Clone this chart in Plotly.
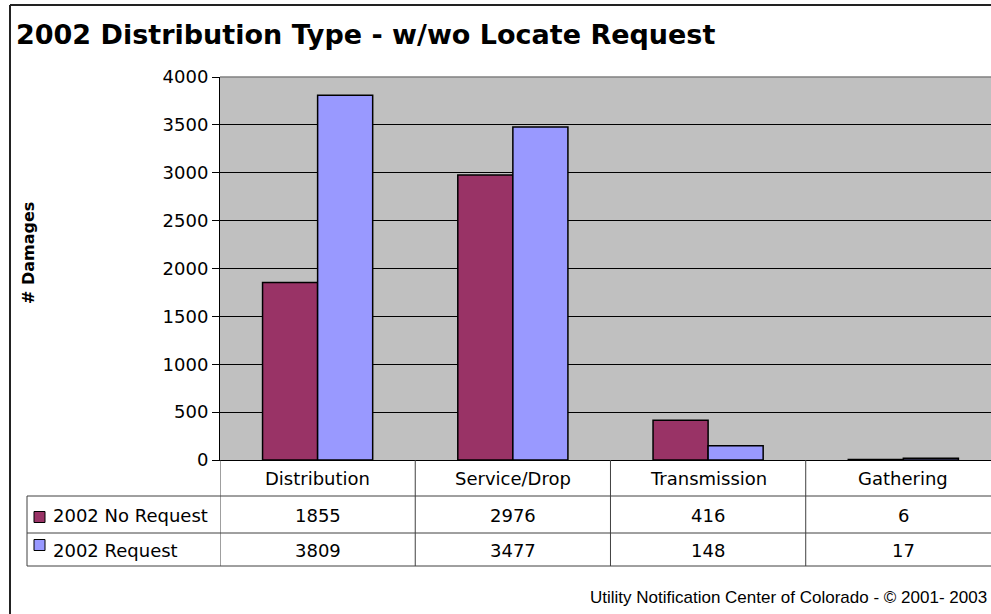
import plotly.graph_objects as go

categories = ["Distribution", "Service/Drop", "Transmission", "Gathering"]
series_names = ["2002 No Request", "2002 Request"]
no_request = [1855, 2976, 416, 6]
request = [3809, 3477, 148, 17]
series_colors = ["#993366", "#9999FF"]
y_ticks = [0, 500, 1000, 1500, 2000, 2500, 3000, 3500, 4000]

W, H = 991, 614
FONT = "DejaVu Sans, Arial, sans-serif"
NARROW = "Liberation Sans Narrow, Arial Narrow, Liberation Sans, Arial, sans-serif"


def px(x):
    return x / W


def py(y):
    return 1 - y / H


fig = go.Figure()
for name, vals, color in zip(series_names, [no_request, request], series_colors):
    fig.add_trace(go.Bar(
        x=categories, y=vals, name=name,
        marker=dict(color=color, line=dict(color="black", width=1.5)),
    ))

# plot area (gray) and axes
fig.update_layout(
    width=W, height=H,
    margin=dict(l=0, r=0, t=0, b=0, autoexpand=False),
    paper_bgcolor="white",
    plot_bgcolor="#C0C0C0",
    showlegend=False,
    barmode="group",
    bargap=0.436,
    bargroupgap=0,
    font=dict(family=FONT, color="black"),
    xaxis=dict(
        domain=[px(220), 1],
        range=[-0.5, 3.449],
        automargin=False,
        showticklabels=False,
        showgrid=False,
        showline=True, linecolor="black", linewidth=1,
        ticks="",
    ),
    yaxis=dict(
        domain=[py(460), py(77)],
        range=[0, 4000],
        automargin=False,
        tickvals=y_ticks,
        ticks="outside", ticklen=7, tickcolor="black",
        tickfont=dict(size=18, family=FONT),
        showgrid=True, gridcolor="black", gridwidth=1,
        showline=True, linecolor="black", linewidth=1,
        zeroline=False,
    ),
)

shapes = []
annotations = []

# top edge of plot area (gray) over the top gridline
shapes.append(dict(type="line", xref="paper", yref="paper",
                   x0=px(220), x1=1.01, y0=py(77), y1=py(77),
                   line=dict(color="#808080", width=1.5)))

# outer chart border (top and left edges; right and bottom fall outside)
shapes.append(dict(type="line", xref="paper", yref="paper",
                   x0=px(10), x1=1.01, y0=py(5), y1=py(5),
                   line=dict(color="#222222", width=2)))
shapes.append(dict(type="line", xref="paper", yref="paper",
                   x0=px(10), x1=px(10), y0=-0.01, y1=py(5),
                   line=dict(color="#222222", width=2)))

# data table
line_col = "#404040"
for y in [496, 533, 566]:
    shapes.append(dict(type="line", xref="paper", yref="paper",
                       x0=px(27), x1=1.01, y0=py(y), y1=py(y),
                       line=dict(color=line_col, width=1)))
shapes.append(dict(type="line", xref="paper", yref="paper",
                   x0=px(27), x1=px(27), y0=py(496), y1=py(566),
                   line=dict(color=line_col, width=1)))
for i in range(len(categories)):
    shapes.append(dict(type="line", xref="x", yref="paper",
                       x0=i - 0.5, x1=i - 0.5, y0=py(460), y1=py(566),
                       line=dict(color=line_col, width=1)))

# category header row
for cat in categories:
    annotations.append(dict(x=cat, xref="x", y=py(478), yref="paper",
                            text=cat, showarrow=False,
                            xanchor="center", yanchor="middle",
                            font=dict(size=18, family=FONT)))

# series rows
row_centers = [515, 550.5]
key_centers = [517, 545]
for name, vals, color, yc, kc in zip(series_names, [no_request, request],
                                     series_colors, row_centers, key_centers):
    shapes.append(dict(type="rect", xref="paper", yref="paper",
                       x0=px(34), x1=px(45), y0=py(kc + 5.5), y1=py(kc - 5.5),
                       fillcolor=color, line=dict(color="black", width=1)))
    annotations.append(dict(x=px(51), xref="paper", y=py(yc), yref="paper",
                            text=name, showarrow=False,
                            xanchor="left", yanchor="middle",
                            font=dict(size=18, family=FONT)))
    for cat, v in zip(categories, vals):
        annotations.append(dict(x=cat, xref="x", y=py(yc), yref="paper",
                                text=str(v), showarrow=False,
                                xanchor="center", yanchor="middle",
                                font=dict(size=18, family=FONT)))

# title, axis title, footer
annotations.append(dict(x=px(14), xref="paper", y=py(34), yref="paper",
                        text="<b>2002 Distribution Type - w/wo Locate Request</b>",
                        showarrow=False, xanchor="left", yanchor="middle",
                        font=dict(size=27, family=FONT)))
annotations.append(dict(x=px(29), xref="paper", y=py(253), yref="paper",
                        text="<b># Damages</b>", textangle=-90,
                        showarrow=False, xanchor="center", yanchor="middle",
                        font=dict(size=16, family=FONT)))
annotations.append(dict(x=px(989), xref="paper", y=py(597), yref="paper",
                        text="Utility Notification Center of Colorado - © 2001- 2003",
                        showarrow=False, xanchor="right", yanchor="middle",
                        font=dict(size=17, family=NARROW)))

fig.update_layout(shapes=shapes, annotations=annotations)

fig.write_html("out.html", config={"displayModeBar": False},
               post_script="document.body.style.margin = '0';")
